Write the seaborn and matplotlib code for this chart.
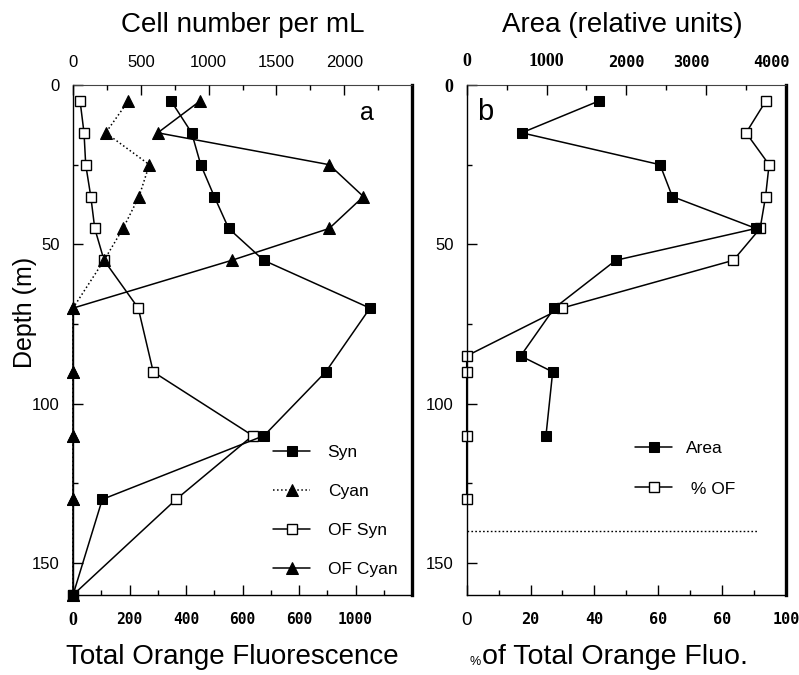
import matplotlib
matplotlib.use("Agg")
import matplotlib.pyplot as plt
import seaborn as sns
from matplotlib.ticker import MultipleLocator
from matplotlib.transforms import ScaledTranslation

# ---------------- data ----------------
depth_a = [5, 15, 25, 35, 45, 55, 70, 90, 110, 130, 160]
syn_cells = [723, 875, 942, 1042, 1148, 1406, 2190, 1864, 1409, 216, 0]
cyan_cells = [408, 241, 563, 487, 369, 229, 0, 0, 0, 0, 0]
of_syn = [25, 39, 45, 63, 77, 110, 231, 284, 636, 365, 0]
of_cyan = [450, 300, 907, 1028, 907, 562, 0, 0, 0, 0, 0]

depth_area = [5, 15, 25, 35, 45, 55, 70, 85, 90, 110]
area = [1657, 689, 2422, 2576, 3624, 1867, 1097, 676, 1077, 993]
depth_pct = [5, 15, 25, 35, 45, 55, 70, 85, 90, 110, 130]
pct_of = [93.7, 87.5, 94.7, 93.6, 91.9, 83.5, 29.8, 0, 0, 0, 0]

boundary_depth = [140, 140]
boundary_pct = [0, 91]

a_bottom_ticks = [0, 200, 400, 600, 800, 1000]
a_bottom_labels = ["0", "200", "400", "600", "600", "1000"]
a_top_ticks = [0, 500, 1000, 1500, 2000]
a_top_labels = ["0", "500", "1000", "1500", "2000"]
b_top_ticks = [0, 1000, 2000, 3000, 4000]
b_top_labels = ["0", "1000", "2000", "3000", "4000"]
b_bottom_ticks = [0, 20, 40, 60, 80, 100]
b_bottom_labels = ["0", "20", "40", "60", "60", "100"]
depth_ticks = [0, 50, 100, 150]
depth_labels = ["0", "50", "100", "150"]

# ---------------- style ----------------
sns.set_style("ticks")
plt.rcParams["font.family"] = ["Liberation Sans", "DejaVu Sans"]
plt.rcParams["text.color"] = "black"
plt.rcParams["axes.labelcolor"] = "black"
plt.rcParams["xtick.color"] = "black"
plt.rcParams["ytick.color"] = "black"
plt.rcParams["axes.edgecolor"] = "black"

W, H = 799, 675
fig = plt.figure(figsize=(W / 100, H / 100), dpi=100)


def px_rect(x0, y0, x1, y1):
    return [x0 / W, 1 - y1 / H, (x1 - x0) / W, (y1 - y0) / H]


axa = fig.add_axes(px_rect(73, 85, 412, 595))
axa_t = axa.twiny()
axb = fig.add_axes(px_rect(466.7, 85, 786, 595))
axb_t = axb.twiny()

K = "black"
common = dict(sort=False, estimator=None, color=K, clip_on=False, linewidth=1.1)

# panel a: cells on top axis, fluorescence on bottom axis
sns.lineplot(x=of_syn, y=depth_a, ax=axa, marker="s", markersize=6.5,
             markerfacecolor="white", markeredgecolor=K, markeredgewidth=1.0,
             linestyle="-", **common)
sns.lineplot(x=of_cyan, y=depth_a, ax=axa, marker="^", markersize=8.5,
             markerfacecolor=K, markeredgecolor=K, linestyle="-", **common)
sns.lineplot(x=syn_cells, y=depth_a, ax=axa_t, marker="s", markersize=7,
             markerfacecolor=K, markeredgecolor=K, linestyle="-", **common)
sns.lineplot(x=cyan_cells, y=depth_a, ax=axa_t, marker="^", markersize=8.5,
             markerfacecolor=K, markeredgecolor=K, linestyle=":", **common)

# panel b: area on top axis, % OF on bottom axis
sns.lineplot(x=pct_of, y=depth_pct, ax=axb, marker="s", markersize=6.5,
             markerfacecolor="white", markeredgecolor=K, markeredgewidth=1.0,
             linestyle="-", **common)
sns.lineplot(x=boundary_pct, y=boundary_depth, ax=axb, color=K, linestyle=(0, (1.2, 1.6)),
             linewidth=1.0, sort=False, estimator=None)
sns.lineplot(x=area, y=depth_area, ax=axb_t, marker="s", markersize=7,
             markerfacecolor=K, markeredgecolor=K, linestyle="-", **common)

for ax in (axa, axb, axa_t, axb_t):
    ax.set_xlabel("")
    ax.set_ylabel("")
for ax in (axa, axb):
    ax.set_ylim(160, 0)

axa.set_xlim(0, 1200)
axa_t.set_xlim(0, 2500)
axb.set_xlim(0, 100)
axb_t.set_xlim(0, 4000)

# ticks
tp = dict(direction="in", width=1.0, color=K, labelcolor=K)
for ax, ticks, labels, minor in ((axa, a_bottom_ticks, a_bottom_labels, 100),
                                 (axb, b_bottom_ticks, b_bottom_labels, 10)):
    ax.set_xticks(ticks, labels)
    ax.xaxis.set_minor_locator(MultipleLocator(minor))
    ax.tick_params(axis="x", which="major", length=7, pad=12, **tp)
    ax.tick_params(axis="x", which="minor", length=3.5, **tp)
    ax.set_yticks(depth_ticks, depth_labels)
    ax.yaxis.set_minor_locator(MultipleLocator(25))
    ax.tick_params(axis="y", which="major", length=7, pad=9.5, labelsize=12, **tp)
    ax.tick_params(axis="y", which="minor", length=3.5, **tp)
    ax.tick_params(axis="y", which="both", right=False, left=True)
    ax.tick_params(axis="x", which="both", top=False, bottom=True)

for ax, ticks, labels, minor in ((axa_t, a_top_ticks, a_top_labels, 250),
                                 (axb_t, b_top_ticks, b_top_labels, 500)):
    ax.set_xticks(ticks, labels)
    ax.xaxis.set_minor_locator(MultipleLocator(minor))
    ax.tick_params(axis="x", which="major", length=7, pad=11, **tp)
    ax.tick_params(axis="x", which="minor", length=3.5, **tp)

# tick label fonts
for lbl in axa_t.get_xticklabels():
    lbl.set_fontsize(12)
for i, lbl in enumerate(axa.get_xticklabels()):
    if i == 0:
        lbl.set_fontfamily("Liberation Serif"); lbl.set_fontweight("bold"); lbl.set_fontsize(13)
    else:
        lbl.set_fontfamily("DejaVu Sans Mono"); lbl.set_fontweight("bold"); lbl.set_fontsize(10.5)
for i, lbl in enumerate(axb.get_xticklabels()):
    if i == 0:
        lbl.set_fontsize(13.5)
    else:
        lbl.set_fontfamily("DejaVu Sans Mono"); lbl.set_fontweight("bold"); lbl.set_fontsize(11)
b_top_lbls = axb_t.get_xticklabels()
for i, lbl in enumerate(b_top_lbls):
    if i <= 1:
        lbl.set_fontfamily("Liberation Serif"); lbl.set_fontweight("bold"); lbl.set_fontsize(13)
    else:
        lbl.set_fontfamily("DejaVu Sans Mono"); lbl.set_fontweight("bold"); lbl.set_fontsize(11)
# the last two area labels sit a little left of their ticks in the reference
for lbl in b_top_lbls[3:]:
    lbl.set_transform(lbl.get_transform() + ScaledTranslation(-0.15, 0, fig.dpi_scale_trans))
for i, lbl in enumerate(axb.get_yticklabels()):
    if i == 0:
        lbl.set_fontfamily("Liberation Serif"); lbl.set_fontweight("bold"); lbl.set_fontsize(13)

# spines
for ax in (axa, axb):
    ax.spines["left"].set_linewidth(1.0)
    ax.spines["bottom"].set_linewidth(1.0)
    ax.spines["top"].set_linewidth(0.8)
    ax.spines["top"].set_color("#444444")
    ax.spines["right"].set_linewidth(2.4)
    for s in ("left", "bottom", "right"):
        ax.spines[s].set_color(K)
for ax in (axa_t, axb_t):
    for s in ax.spines.values():
        s.set_visible(False)

# legends
la = [axa_t.lines[0], axa_t.lines[1], axa.lines[0], axa.lines[1]]
fig.legend(la, ["Syn", "Cyan", "OF Syn", "OF Cyan"], loc="center left",
           bbox_to_anchor=(273 / W, 1 - 511 / H), frameon=False, fontsize=12.5,
           handlelength=2.15, handletextpad=1.0, labelspacing=1.36,
           borderpad=0, borderaxespad=0, numpoints=1, labelcolor=K)
lb = [axb_t.lines[0], axb.lines[0]]
fig.legend(lb, ["Area", " % OF"], loc="center left",
           bbox_to_anchor=(635 / W, 1 - 468.5 / H), frameon=False, fontsize=12.5,
           handlelength=2.15, handletextpad=0.8, labelspacing=1.48,
           borderpad=0, borderaxespad=0, numpoints=1, labelcolor=K)


# texts
def ftext(x, y, s, **kw):
    fig.text(x / W, 1 - y / H, s, color=K, **kw)


ftext(242.5, 25, "Cell number per mL", fontsize=20, ha="center", va="center")
ftext(622.5, 25, "Area (relative units)", fontsize=20, ha="center", va="center")
ftext(232, 657, "Total Orange Fluorescence", fontsize=20, ha="center", va="center")
ftext(482, 657, "of Total Orange Fluo.", fontsize=20.5, ha="left", va="center")
ftext(475, 662, "%", fontsize=9, ha="center", va="center")
ftext(25, 312, "Depth (m)", fontsize=18, ha="center", va="center", rotation=90)
ftext(367, 113, "a", fontsize=18, ha="center", va="center")
ftext(485, 112, "b", fontsize=21, ha="center", va="center")

fig.savefig("out.png", dpi=100)
